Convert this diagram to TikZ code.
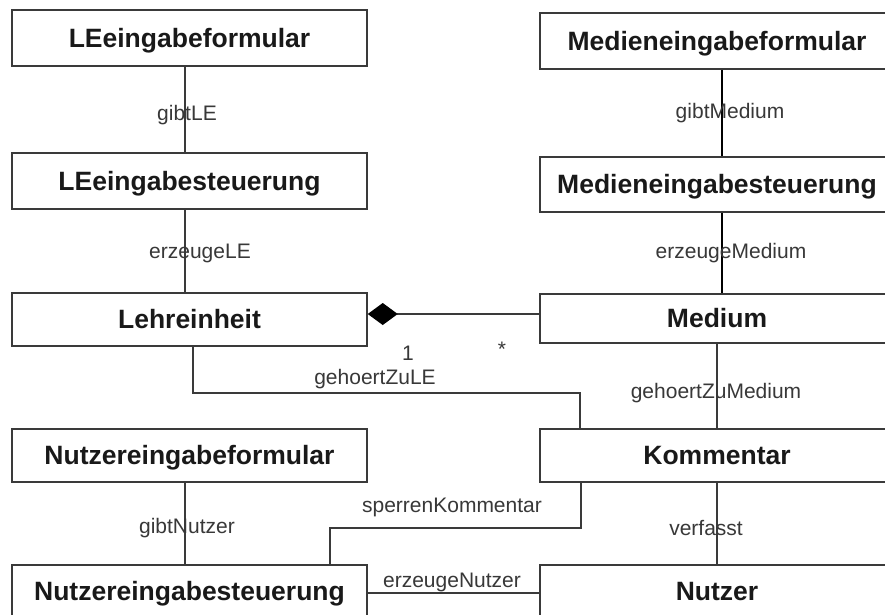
\documentclass[tikz,border=0pt]{standalone}
\usepackage{fontspec}
\setmainfont{Liberation Sans}
\usetikzlibrary{arrows.meta}
\definecolor{edgec}{HTML}{3A3A3A}
\definecolor{labc}{HTML}{383838}
\begin{document}
\begin{tikzpicture}[x=1pt,y=-1pt,
  cls/.style={draw=edgec,line width=1.5pt,inner sep=0pt,
    text height=18.6pt,text depth=0pt,
    font=\fontsize{26.5}{30}\selectfont\bfseries,text=black!90},
  lcol/.style={cls,minimum width=355pt},
  rcol/.style={cls,minimum width=354pt},
  conn/.style={draw=edgec,line width=1.4pt},
  lab/.style={font=\fontsize{21}{24}\selectfont,text=labc,inner sep=0pt}]
\useasboundingbox (0,0) rectangle (885,614);
\fill[white] (0,0) rectangle (885,614);
\clip (0,0) rectangle (885,614);

% classes, left column
\node[lcol,minimum height=56pt] (lef1) at (189.5,38)    {LEeingabeformular};
\node[lcol,minimum height=56pt] (lef2) at (189.5,181)   {LEeingabesteuerung};
\node[lcol,minimum height=53pt] (lehr) at (189.5,319.5) {Lehreinheit};
\node[lcol,minimum height=53pt] (nf)   at (189.5,455.5) {Nutzereingabeformular};
\node[lcol,minimum height=52pt] (ns)   at (189.5,591)   {Nutzereingabesteuerung};

% classes, right column
\node[rcol,minimum height=56pt] (mf)   at (717,41)      {Medieneingabeformular};
\node[rcol,minimum height=55pt] (ms)   at (717,184.5)   {Medieneingabesteuerung};
\node[rcol,minimum height=49pt] (med)  at (717,318.5)   {Medium};
\node[rcol,minimum height=53pt] (kom)  at (717,455.5)   {Kommentar};
\node[rcol,minimum height=52pt] (nut)  at (717,591)     {Nutzer};

% helper coordinates for connector routing
\coordinate (cA) at (185,0);
\coordinate (cB) at (722,0);
\coordinate (cC) at (193,0);
\coordinate (gz) at (580,393);
\coordinate (cy) at (0,314);
\coordinate (skA) at (581,528);
\coordinate (skB) at (330,528);
\coordinate (en) at (0,593);

% associations
\draw[conn] (lef1.south -| cA) -- (lef2.north -| cA);
\draw[conn] (lef2.south -| cA) -- (lehr.north -| cA);
\draw[conn,draw=black] (mf.south -| cB) -- (ms.north -| cB);
\draw[conn,draw=black] (ms.south -| cB) -- (med.north -| cB);
\draw[conn,{Diamond[length=30pt,width=22pt,fill=black,color=black]}-] (lehr.east |- cy) -- (med.west |- cy);
\draw[conn] (lehr.south -| cC) |- (gz) -- (kom.north -| gz);
\draw[conn] (med.south) -- (kom.north);
\draw[conn] (nf.south -| cA) -- (ns.north -| cA);
\draw[conn] (kom.south -| skA) -- (skA) -- (skB) -- (ns.north -| skB);
\draw[conn] (kom.south) -- (nut.north);
\draw[conn] (ns.east |- en) -- (nut.west |- en);

% association labels
\node[lab] (l1)  at (187,115) {gibtLE};
\node[lab] (l2)  at (200,253) {erzeugeLE};
\node[lab] (l3)  at (730,113) {gibtMedium};
\node[lab] (l4)  at (731,253) {erzeugeMedium};
\node[lab] (m1)  at (408,353) {1};
\node[lab] (m2)  at (502,349) {*};
\node[lab] (l5)  at (375,379) {gehoertZuLE};
\node[lab] (l6)  at (716,393) {gehoertZuMedium};
\node[lab] (l7)  at (187,528) {gibtNutzer};
\node[lab] (l8)  at (452,507) {sperrenKommentar};
\node[lab] (l9)  at (706,528) {verfasst};
\node[lab] (l10) at (452,582) {erzeugeNutzer};
\end{tikzpicture}
\end{document}
